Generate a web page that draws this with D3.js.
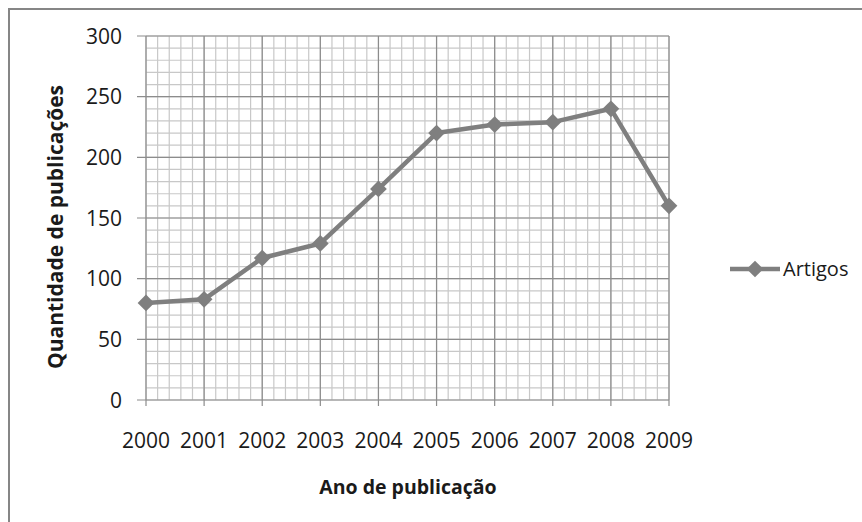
<!DOCTYPE html>
<html>
<head>
<meta charset="utf-8">
<script src="https://cdn.jsdelivr.net/npm/d3@7"></script>
<style>
  body { margin: 0; background: #fff; }
  text { font-family: "Open Sans", sans-serif; fill: #1a1a1a; }
</style>
</head>
<body>
<div id="chart"></div>
<script>
// data
var years = ["2000", "2001", "2002", "2003", "2004", "2005", "2006", "2007", "2008", "2009"];
var artigos = [80, 83, 117, 129, 174, 220, 227, 229, 240, 160];
var yTicks = [0, 50, 100, 150, 200, 250, 300];
var seriesName = "Artigos";

var w = 862, h = 522;
var svg = d3.select("#chart").append("svg")
    .attr("width", w)
    .attr("height", h);

// outer frame (cut off at right and bottom)
svg.append("rect")
    .attr("x", 9).attr("y", 9)
    .attr("width", w + 20).attr("height", h + 20)
    .attr("fill", "#fff")
    .attr("stroke", "#868686")
    .attr("stroke-width", 2);

var pLeft = 146, pRight = 669, pTop = 36, pBottom = 400;

// x as a linear index so the minor lines can sit between years
var x = d3.scaleLinear().domain([0, years.length - 1]).range([pLeft, pRight]);
var y = d3.scaleLinear().domain([0, 300]).range([pBottom, pTop]);

var g = svg.append("g");

// minor grid
var minorX = d3.range(0, (years.length - 1) * 5 + 1).map(function(i){ return i / 5; });
var minorY = d3.range(0, 301, 10);
g.selectAll(".mx").data(minorX).enter().append("line")
    .attr("x1", d => x(d)).attr("x2", d => x(d))
    .attr("y1", pTop).attr("y2", pBottom)
    .attr("stroke", "#c8c8c8").attr("stroke-width", 1.2);
g.selectAll(".my").data(minorY).enter().append("line")
    .attr("x1", pLeft).attr("x2", pRight)
    .attr("y1", d => y(d)).attr("y2", d => y(d))
    .attr("stroke", "#c8c8c8").attr("stroke-width", 1.2);

// major grid
g.selectAll(".gx").data(d3.range(years.length)).enter().append("line")
    .attr("x1", d => x(d)).attr("x2", d => x(d))
    .attr("y1", pTop).attr("y2", pBottom + 6)
    .attr("stroke", "#8c8c8c").attr("stroke-width", 1.2);
g.selectAll(".gy").data(yTicks).enter().append("line")
    .attr("x1", pLeft - 9).attr("x2", pRight)
    .attr("y1", d => y(d)).attr("y2", d => y(d))
    .attr("stroke", "#8c8c8c").attr("stroke-width", 1.2);

// tick labels
g.selectAll(".yl").data(yTicks).enter().append("text")
    .attr("x", 122).attr("y", d => y(d))
    .attr("dy", "0.36em")
    .attr("text-anchor", "end")
    .style("font-size", "21px")
    .text(d => d);
g.selectAll(".xl").data(years).enter().append("text")
    .attr("x", (d, i) => x(i)).attr("y", 448)
    .attr("text-anchor", "middle")
    .style("font-size", "21px")
    .text(d => d);

// axis titles
svg.append("text")
    .attr("x", 408).attr("y", 494)
    .attr("text-anchor", "middle")
    .style("font-size", "19.5px").style("font-weight", "bold")
    .text("Ano de publicação");
svg.append("text")
    .attr("transform", "translate(63,227) rotate(-90)")
    .attr("text-anchor", "middle")
    .style("font-size", "21px").style("font-weight", "bold")
    .text("Quantidade de publicações");

// series
var line = d3.line()
    .x((d, i) => x(i))
    .y(d => y(d));
var lineColor = "#7f7f7f";
g.append("path")
    .datum(artigos)
    .attr("d", line)
    .attr("fill", "none")
    .attr("stroke", lineColor)
    .attr("stroke-width", 4.5)
    .attr("stroke-linejoin", "round");

var diamond = d3.symbol().type(d3.symbolSquare).size(140);
g.selectAll(".pt").data(artigos).enter().append("path")
    .attr("d", diamond)
    .attr("transform", (d, i) => "translate(" + x(i) + "," + y(d) + ") rotate(45)")
    .attr("fill", lineColor);

// legend
var lg = svg.append("g").attr("transform", "translate(730,269)");
lg.append("line")
    .attr("x1", 0).attr("x2", 50)
    .attr("stroke", lineColor).attr("stroke-width", 4.5);
lg.append("path")
    .attr("d", diamond)
    .attr("transform", "translate(25,0) rotate(45)")
    .attr("fill", lineColor);
lg.append("text")
    .attr("x", 53).attr("dy", "0.36em")
    .style("font-size", "20px")
    .text(seriesName);
</script>
</body>
</html>
